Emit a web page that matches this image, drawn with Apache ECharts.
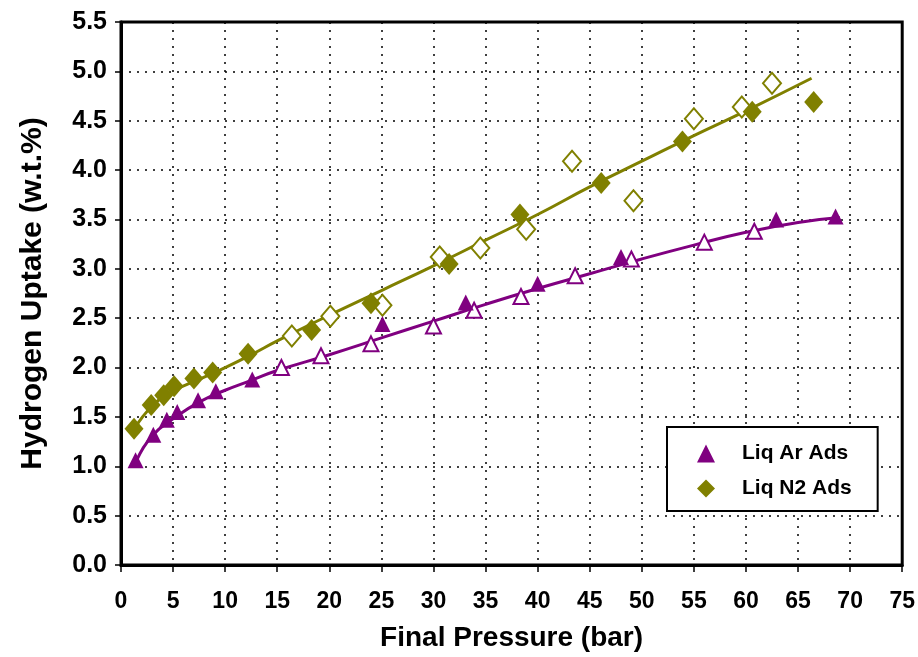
<!DOCTYPE html>
<html>
<head>
<meta charset="utf-8">
<script src="https://cdn.jsdelivr.net/npm/echarts@6/dist/echarts.min.js"></script>
<style>
  html, body { margin: 0; padding: 0; background: #fff; }
  #chart { width: 918px; height: 657px; }
</style>
</head>
<body>
<div id="chart"></div>
<script>
const chart = echarts.init(document.getElementById('chart'));

// Liquid argon adsorption: filled and hollow triangles [pressure, uptake]
const arFilled = [
    [1.4, 1.06], [3.1, 1.32], [4.4, 1.47], [5.4, 1.55], [7.4, 1.67], [9.1, 1.76],
    [12.6, 1.88], [25.1, 2.44], [33.1, 2.66], [40.0, 2.85], [48.0, 3.12], [62.9, 3.50], [68.6, 3.53]
];
const arHollow = [
    [15.4, 2.00], [19.2, 2.12], [24.0, 2.24], [30.0, 2.42], [33.9, 2.58], [38.4, 2.72],
    [43.6, 2.93], [49.0, 3.10], [56.0, 3.27], [60.8, 3.38]
];
// Liquid nitrogen adsorption: filled and hollow diamonds
const n2Filled = [
    [1.25, 1.38], [2.9, 1.62], [4.1, 1.72], [5.1, 1.81], [7.0, 1.89], [8.8, 1.95],
    [12.2, 2.14], [18.3, 2.38], [24.0, 2.65], [31.5, 3.05], [38.3, 3.55], [46.1, 3.87],
    [53.9, 4.29], [60.6, 4.59], [66.5, 4.69]
];
const n2Hollow = [
    [16.4, 2.32], [20.1, 2.52], [25.1, 2.63], [30.6, 3.12], [34.5, 3.21], [38.9, 3.40],
    [43.3, 4.09], [49.2, 3.69], [55.0, 4.52], [59.6, 4.64], [62.5, 4.88]
];
// trend lines
const arTrend = [
    [1.5, 1.06], [3, 1.31], [5, 1.48], [7.5, 1.65], [10, 1.77], [12.5, 1.87], [15, 1.97],
    [20, 2.13], [25, 2.30], [30, 2.47], [35, 2.64], [40, 2.80], [45, 2.95], [50, 3.10],
    [55, 3.24], [60, 3.37], [65, 3.47], [69, 3.52]
];
const n2Trend = [
    [1.3, 1.38], [3, 1.61], [5, 1.76], [7.5, 1.88], [10, 2.00], [12.5, 2.13], [15, 2.27],
    [20, 2.53], [25, 2.78], [30, 3.03], [35, 3.29], [40, 3.55], [45, 3.83], [50, 4.09],
    [55, 4.35], [60, 4.60], [66.3, 4.93]
];

const purple = '#800080';
const olive = '#808000';
const font = '"Liberation Sans", Arial, sans-serif';
const narrow = '"Liberation Sans Narrow", "Arial Narrow", "Liberation Sans", Arial, sans-serif';

const gridLine = { show: true, lineStyle: { color: '#000', type: [2, 6], width: 1.5 } };

option = {
    animation: false,
    backgroundColor: '#fff',
    grid: { left: 121, right: 14, top: 22, bottom: 90, show: true, borderColor: '#000', borderWidth: 3 },
    xAxis: {
        type: 'value', min: 0, max: 75, interval: 5,
        name: 'Final Pressure (bar)', nameLocation: 'middle', nameGap: 59,
        nameTextStyle: { fontFamily: narrow, fontWeight: 'bold', fontSize: 28, color: '#000' },
        axisLine: { lineStyle: { color: '#000', width: 3 } },
        axisTick: { show: true, length: 7, lineStyle: { color: '#000', width: 1.5 } },
        axisLabel: { margin: 25, fontFamily: narrow, fontWeight: 'bold', fontSize: 23, color: '#000' },
        splitLine: gridLine
    },
    yAxis: {
        type: 'value', min: 0, max: 5.5, interval: 0.5,
        name: 'Hydrogen Uptake (w.t.%)', nameLocation: 'middle', nameGap: 73,
        nameTextStyle: { fontFamily: font, fontWeight: 'bold', fontSize: 30, color: '#000' },
        axisLine: { lineStyle: { color: '#000', width: 3 } },
        axisTick: { show: true, length: 6, lineStyle: { color: '#000', width: 1.5 } },
        axisLabel: {
            margin: 14, fontFamily: font, fontWeight: 'bold', fontSize: 25, color: '#000',
            formatter: (v) => v.toFixed(1)
        },
        splitLine: gridLine
    },
    legend: {
        data: ['Liq Ar Ads', 'Liq N2 Ads'],
        orient: 'vertical', left: 667, top: 427,
        padding: [16, 26, 12, 30], itemGap: 14,
        backgroundColor: '#fff', borderColor: '#000', borderWidth: 2,
        itemWidth: 18, itemHeight: 18,
        textStyle: { fontFamily: font, fontWeight: 'bold', fontSize: 21, color: '#000', padding: [0, 0, 0, 22] }
    },
    series: [
        {
            type: 'line', data: arTrend, smooth: true, showSymbol: false, silent: true,
            lineStyle: { color: purple, width: 3 }, z: 1
        },
        {
            type: 'line', data: n2Trend, smooth: true, showSymbol: false, silent: true,
            lineStyle: { color: olive, width: 3 }, z: 1
        },
        {
            name: 'Liq Ar Ads', type: 'scatter', data: arFilled, symbol: 'triangle', symbolSize: 16,
            itemStyle: { color: purple, opacity: 1 }, z: 3
        },
        {
            type: 'scatter', data: arHollow, symbol: 'triangle', symbolSize: 15,
            itemStyle: { color: '#fff', borderColor: purple, borderWidth: 2, opacity: 1 }, z: 2
        },
        {
            name: 'Liq N2 Ads', type: 'scatter', data: n2Filled, symbol: 'diamond', symbolSize: [19, 22],
            itemStyle: { color: olive, opacity: 1 }, z: 3
        },
        {
            type: 'scatter', data: n2Hollow, symbol: 'diamond', symbolSize: [18, 21],
            itemStyle: { color: '#fff', borderColor: olive, borderWidth: 2, opacity: 1 }, z: 2
        }
    ]
};

chart.setOption(option);
</script>
</body>
</html>
